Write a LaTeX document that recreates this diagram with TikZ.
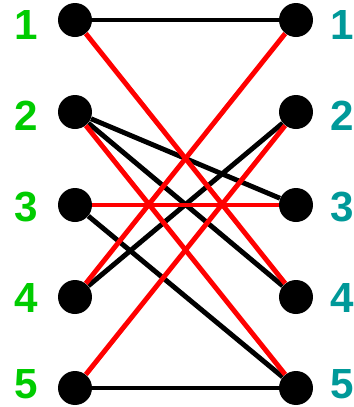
\documentclass[tikz,border=0pt]{standalone}
\usepackage{fontspec}
\setmainfont{Liberation Sans}
\definecolor{lblgreen}{RGB}{0, 204, 0}
\definecolor{lblteal}{RGB}{0, 153, 153}
\definecolor{matchred}{RGB}{255, 0, 0}
\usetikzlibrary{positioning}

\begin{document}
\begin{tikzpicture}[x=0.02cm, y=-0.02cm,
  vert/.style={circle, fill=black, minimum size=0.68cm, inner sep=0pt},
  llab/.style={text=lblgreen, inner sep=0pt, font=\fontsize{24}{24}\selectfont\bfseries},
  rlab/.style={text=lblteal, inner sep=0pt, font=\fontsize{24}{24}\selectfont\bfseries},
  blk/.style={line width=2.8pt, black},
  red/.style={line width=2.8pt, matchred}
]
  \useasboundingbox (0,0) rectangle (353,407);

  % left and right vertices
  \foreach \i/\y/\ty in {1/20/25, 2/112/116, 3/205/207, 4/297/298, 5/388/384} {
    \node[vert] (l\i) at (75,\y) {};
    \node[vert] (r\i) at (296,\y) {};
    \node[llab] (a\i) at (26,\ty) {\i};
    \node[rlab] (b\i) at (342,\ty) {\i};
  }

  % edges
  \foreach \a/\b in {1/1, 2/3, 2/4, 3/5, 4/2, 5/5}
    \draw[blk] (l\a) -- (r\b);
  \foreach \a/\b in {1/4, 2/5, 3/3, 4/1, 5/2}
    \draw[red] (l\a) -- (r\b);
\end{tikzpicture}
\end{document}
